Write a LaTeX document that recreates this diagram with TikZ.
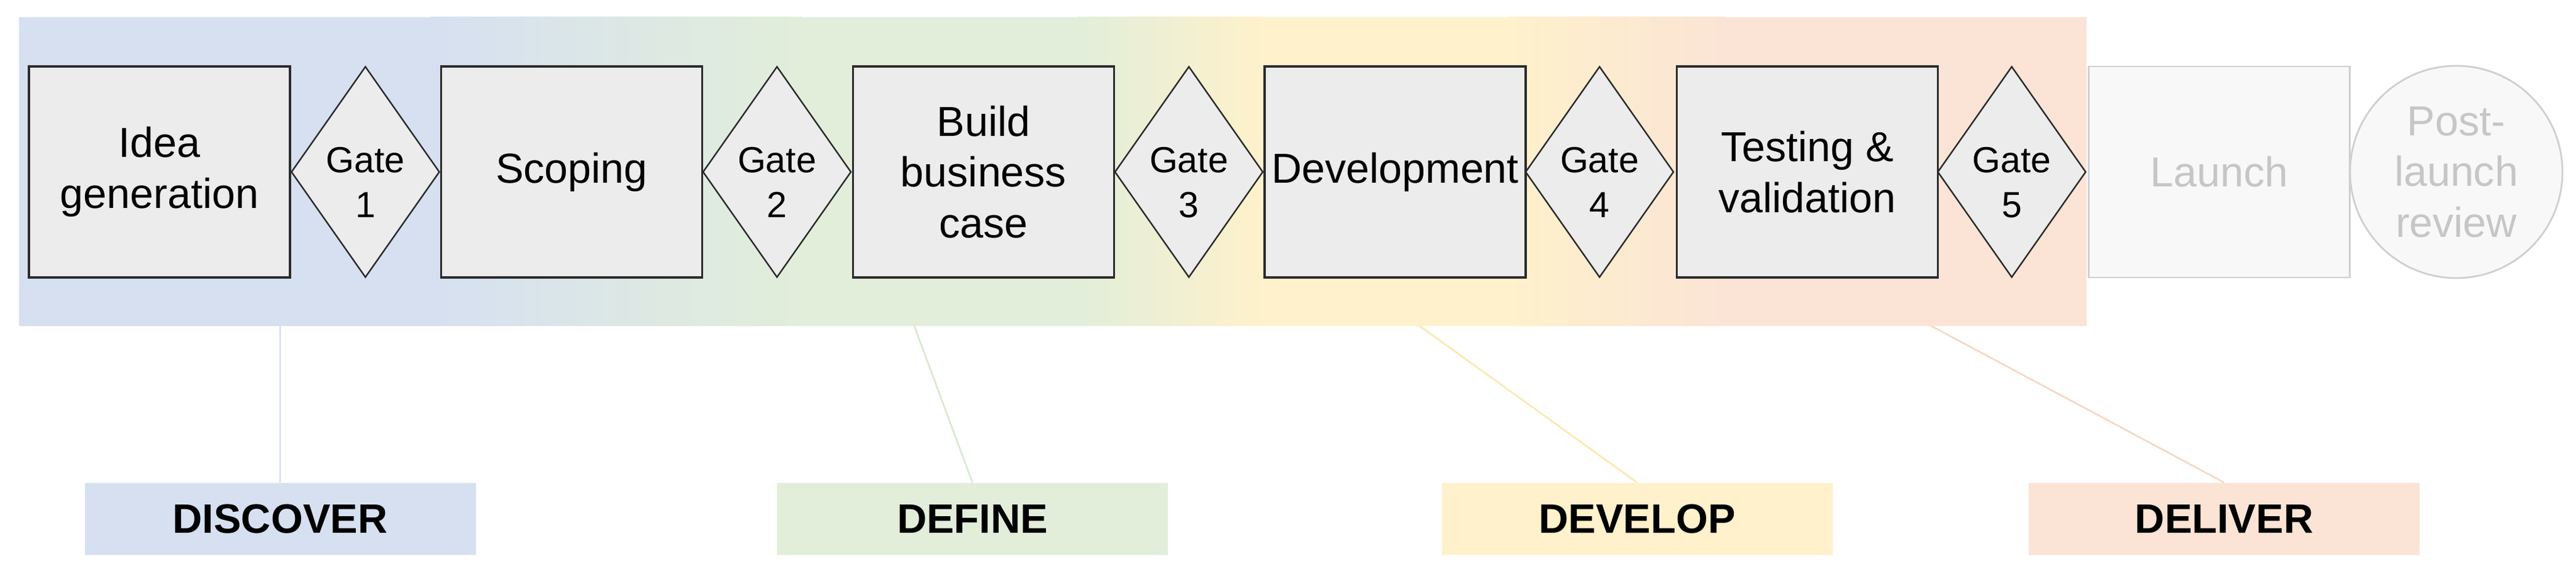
\documentclass[tikz,border=0pt]{standalone}
\usepackage{fontspec}
\setmainfont{Liberation Sans}
\usetikzlibrary{shapes,positioning}
\usepackage{xcolor}

\definecolor{boxline}{HTML}{2B2B2B}
\definecolor{boxfill}{HTML}{ECECEC}
\definecolor{fadeline}{HTML}{CFCFCF}
\definecolor{fadefill}{HTML}{F8F8F8}
\definecolor{fadetext}{HTML}{C6C6C6}
\definecolor{bandblue}{HTML}{D6E0F1}
\definecolor{bandgreen}{HTML}{E2EEDA}
\definecolor{bandyellow}{HTML}{FEF1CB}
\definecolor{bandorange}{HTML}{FBE4D5}
\definecolor{pinblue}{HTML}{D0DAED}
\definecolor{pingreen}{HTML}{DAE9CE}
\definecolor{pinyellow}{HTML}{FCE8B2}
\definecolor{pinorange}{HTML}{F7D8C4}

\begin{document}
\begin{tikzpicture}
    % Styles
    \tikzstyle{stage} = [rectangle, draw=boxline, line width=1pt, fill=boxfill, minimum width=4.24cm, minimum height=3.43cm, inner sep=0pt, align=center, font=\fontsize{19.4}{23.5}\selectfont]
    \tikzstyle{gate} = [diamond, draw=boxline, line width=0.7pt, fill=boxfill, aspect=0.7, minimum width=2.41cm, minimum height=3.43cm, inner sep=0pt, text height=1.48cm, align=center, font=\fontsize{16.8}{20.7}\selectfont]
    \tikzstyle{faded} = [draw=fadeline, line width=0.8pt, fill=fadefill, text=fadetext]
    \tikzstyle{phase} = [rectangle, minimum width=6.35cm, minimum height=1.17cm, inner sep=0pt, font=\bfseries\fontsize{19}{23}\selectfont]
    \tikzstyle{pin} = [line width=0.8pt]

    \useasboundingbox (0,0) rectangle (41.84,9.33);

    % Colour band
    \fill[bandblue] (0.31,4.03) rectangle (7.02,9.05);
    \shade[left color=bandblue, right color=bandgreen] (7.0,4.03) rectangle (13.02,9.05);
    \fill[bandgreen] (13.0,4.03) rectangle (17.52,9.05);
    \shade[left color=bandgreen, right color=bandyellow] (17.5,4.03) rectangle (20.52,9.05);
    \fill[bandyellow] (20.5,4.03) rectangle (24.52,9.05);
    \shade[left color=bandyellow, right color=bandorange] (24.5,4.03) rectangle (28.02,9.05);
    \fill[bandorange] (28.0,4.03) rectangle (33.89,9.05);

    % Stages and gates
    \node[stage] (idea) at (2.59,6.535) {Idea\\generation};
    \node[gate] (gate1) at (5.935,6.535) {Gate\\1};
    \node[stage] (scoping) at (9.285,6.535) {Scoping};
    \node[gate] (gate2) at (12.62,6.535) {Gate\\2};
    \node[stage] (business) at (15.975,6.535) {Build\\business\\case};
    \node[gate] (gate3) at (19.31,6.535) {Gate\\3};
    \node[stage] (development) at (22.66,6.535) {Development};
    \node[gate] (gate4) at (25.98,6.535) {Gate\\4};
    \node[stage] (testing) at (29.355,6.535) {Testing \&\\validation};
    \node[gate] (gate5) at (32.675,6.535) {Gate\\5};
    \node[stage, faded] (launch) at (36.045,6.535) {Launch};
    \node[circle, faded, minimum size=3.45cm, inner sep=0pt, align=center, font=\fontsize{19.4}{23.5}\selectfont] (review) at (39.895,6.535) {Post-\\launch\\review};

    % Phases
    \node[phase, fill=bandblue] (discover) at (4.55,0.895) {DISCOVER};
    \node[phase, fill=bandgreen] (define) at (15.795,0.895) {DEFINE};
    \node[phase, fill=bandyellow] (develop) at (26.59,0.895) {DEVELOP};
    \node[phase, fill=bandorange] (deliver) at (36.125,0.895) {DELIVER};

    \coordinate (discoverpin) at (4.55,4.03);
    \coordinate (definepin) at (14.85,4.03);
    \coordinate (developpin) at (23.06,4.03);
    \coordinate (deliverpin) at (31.37,4.03);

    % Leader lines
    \draw[pin, pinblue] (discoverpin) -- (discover.north);
    \draw[pin, pingreen] (definepin) -- (define.north);
    \draw[pin, pinyellow] (developpin) -- (develop.north);
    \draw[pin, pinorange] (deliverpin) -- (deliver.north);
\end{tikzpicture}
\end{document}
